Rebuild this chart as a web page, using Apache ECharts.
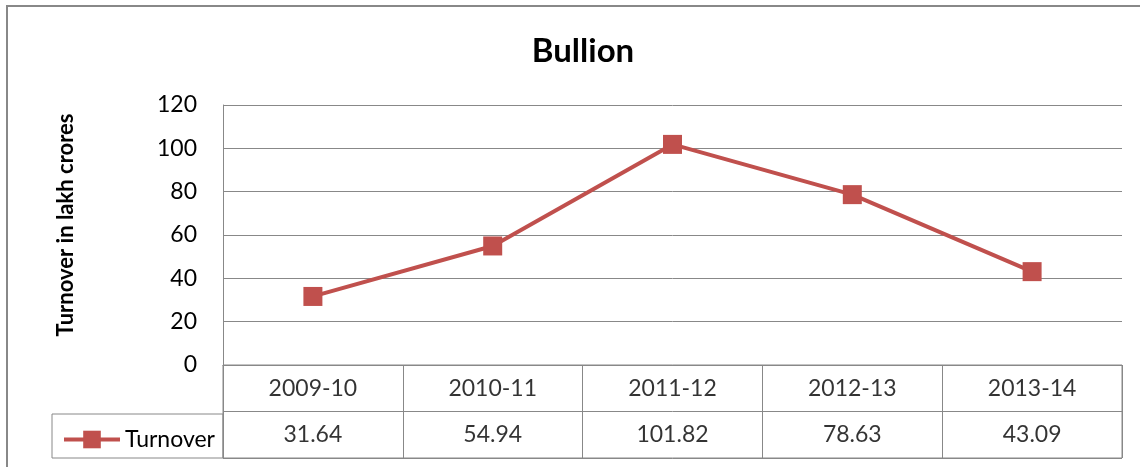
<!DOCTYPE html>
<html>
<head>
<meta charset="utf-8">
<script src="https://cdn.jsdelivr.net/npm/echarts@6/dist/echarts.min.js"></script>
<style>
  html, body { margin: 0; padding: 0; background: #fff; }
  #main { width: 1140px; height: 467px; }
</style>
</head>
<body>
<div id="main"></div>
<script>
// 数据
var categories = ['2009-10', '2010-11', '2011-12', '2012-13', '2013-14'];
var turnover = [31.64, 54.94, 101.82, 78.63, 43.09];
var yTicks = [0, 20, 40, 60, 80, 100, 120];
var seriesName = 'Turnover';

var gray = '#888';
var red = '#C0504D';
var font = 'Lato, "Liberation Sans", sans-serif';

// 表格单元格 (类别行 + 数值行)
var tableCells = [];
for (var i = 0; i < categories.length; i++) {
    tableCells.push({ value: [categories[i], 'cat'], text: categories[i] });
    tableCells.push({ value: [categories[i], 'val'], text: turnover[i].toFixed(2) });
}

var myChart = echarts.init(document.getElementById('main'));
var option = {
    backgroundColor: '#fff',
    animation: false,
    textStyle: { fontFamily: font },
    title: {
        text: 'Bullion',
        left: 578,
        textAlign: 'center',
        top: 30,
        textStyle: { fontSize: 33, fontWeight: 'bold', color: '#000', fontFamily: font }
    },
    graphic: [{
        type: 'rect',
        shape: { x: 7, y: 6, width: 1200, height: 500 },
        style: { fill: 'none', stroke: gray, lineWidth: 2 },
        silent: true
    }],
    legend: {
        data: [seriesName],
        left: 57,
        top: 423,
        itemWidth: 56,
        itemHeight: 22,
        itemGap: 3,
        lineStyle: { width: 4 },
        textStyle: { fontSize: 23, color: '#000', fontFamily: font }
    },
    grid: [
        { left: 223, right: 18, top: 105, height: 260 },
        { left: 223, right: 18, top: 365, height: 93, show: true, borderColor: gray, borderWidth: 1 },
        { left: 52, top: 414, width: 171, height: 44, show: true, borderColor: gray, borderWidth: 1 }
    ],
    xAxis: [
        {
            gridIndex: 0, type: 'category', data: categories, boundaryGap: true,
            axisLine: { show: true, lineStyle: { color: gray } },
            axisTick: { show: false }, axisLabel: { show: false }
        },
        {
            gridIndex: 1, type: 'category', data: categories, boundaryGap: true,
            axisLine: { show: false }, axisTick: { show: false }, axisLabel: { show: false },
            splitLine: { show: true, lineStyle: { color: gray } }
        },
        {
            gridIndex: 2, type: 'value', show: false
        }
    ],
    yAxis: [
        {
            gridIndex: 0, type: 'value', min: 0, max: 120, interval: 20,
            name: 'Turnover in lakh crores',
            nameLocation: 'middle',
            nameGap: 146,
            nameTextStyle: { fontSize: 22, fontWeight: 'bold', color: '#000', fontFamily: font, padding: [0, 0, 0, 20] },
            axisLine: { show: true, lineStyle: { color: gray } },
            axisTick: { show: false },
            axisLabel: {
                fontSize: 23, color: '#000', margin: 26, fontFamily: font,
                formatter: function (v) { return yTicks.indexOf(v) >= 0 ? String(v) : ''; }
            },
            splitLine: { show: true, lineStyle: { color: gray } }
        },
        {
            gridIndex: 1, type: 'category', data: ['cat', 'val'], inverse: true,
            axisLine: { show: false }, axisTick: { show: false }, axisLabel: { show: false },
            splitLine: { show: true, lineStyle: { color: gray } }
        },
        {
            gridIndex: 2, type: 'value', show: false
        }
    ],
    series: [
        {
            name: seriesName,
            type: 'line',
            xAxisIndex: 0, yAxisIndex: 0,
            data: turnover,
            symbol: 'rect',
            symbolSize: 19,
            itemStyle: { color: red },
            lineStyle: { color: red, width: 4 }
        },
        {
            type: 'scatter',
            xAxisIndex: 1, yAxisIndex: 1,
            symbolSize: 0,
            silent: true,
            data: tableCells,
            label: {
                show: true, position: 'inside',
                fontSize: 23, color: '#000', fontFamily: font,
                formatter: function (p) { return p.data.text; }
            }
        }
    ]
};
myChart.setOption(option);
</script>
</body>
</html>
